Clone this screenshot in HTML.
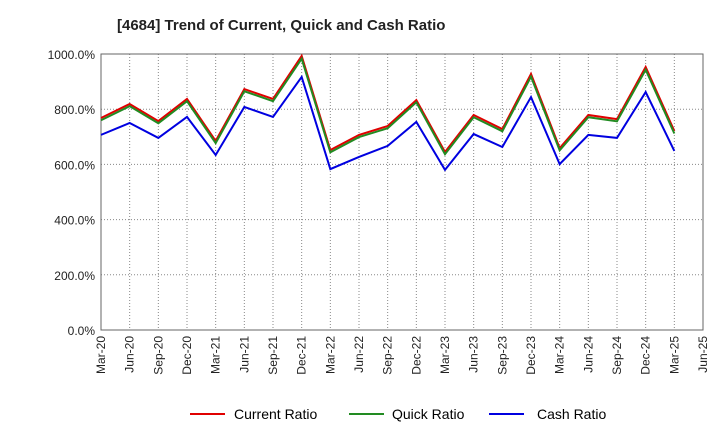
<!DOCTYPE html>
<html><head><meta charset="utf-8"><style>
body{margin:0;background:#fff;font-family:"Liberation Sans",sans-serif;}
</style></head><body>
<svg id="chart" width="720" height="440" xmlns="http://www.w3.org/2000/svg" font-family="Liberation Sans, sans-serif">
<text x="117" y="30" font-size="15" font-weight="bold" fill="#222">[4684]  Trend of Current, Quick and Cash Ratio</text>
<g id="grid"></g><g id="axes"></g><g id="series"></g>
<g>
<line x1="190" y1="414" x2="225" y2="414" stroke="#e00000" stroke-width="2"/>
<text x="234" y="419" font-size="14">Current Ratio</text>
<line x1="349" y1="414" x2="384" y2="414" stroke="#228b22" stroke-width="2"/>
<text x="392" y="419" font-size="14">Quick Ratio</text>
<line x1="489" y1="414" x2="524" y2="414" stroke="#0000e0" stroke-width="2"/>
<text x="537" y="419" font-size="14">Cash Ratio</text>
</g>
</svg>
<script>
const tickLabels=["Mar-20","Jun-20","Sep-20","Dec-20","Mar-21","Jun-21","Sep-21","Dec-21","Mar-22","Jun-22","Sep-22","Dec-22","Mar-23","Jun-23","Sep-23","Dec-23","Mar-24","Jun-24","Sep-24","Dec-24","Mar-25","Jun-25"];
const yTicks=[0,200,400,600,800,1000];
const current=[768,819,757,837,685,873,837,993,652,707,739,833,645,779,728,928,659,779,764,953,721];
const quick=[760,811,749,829,677,865,829,983,644,699,731,825,637,771,720,918,651,771,756,943,712];
const cash=[707,750,696,772,634,808,772,917,583,627,667,754,580,710,663,844,601,707,696,862,649];
const X0=101,X1=703,Y0=330,Y1=54;
const xs=i=>X0+i*(X1-X0)/(tickLabels.length-1);
const ys=v=>Y0-v*(Y0-Y1)/1000;
const NS="http://www.w3.org/2000/svg";
function mk(p,t,a){const e=document.createElementNS(NS,t);for(const k in a)e.setAttribute(k,a[k]);p.appendChild(e);return e;}
const grid=document.getElementById('grid'),axes=document.getElementById('axes'),ser=document.getElementById('series');
tickLabels.forEach((t,i)=>{
 const g=mk(grid,'line',{x1:xs(i),x2:xs(i),y1:Y1,y2:Y0,stroke:'#888','stroke-dasharray':'1,2','stroke-width':1});
 
 
 const tx=mk(axes,'text',{x:0,y:0,'font-size':12,fill:'#222','text-anchor':'end',transform:`translate(${xs(i)+4},${Y0+6}) rotate(-90)`});
 tx.textContent=t;
 
 
});
yTicks.forEach(v=>{
 const g=mk(grid,'line',{x1:X0,x2:X1,y1:ys(v),y2:ys(v),stroke:'#888','stroke-dasharray':'1,2','stroke-width':1});
 
 
 const tx=mk(axes,'text',{x:X0-6,y:ys(v)+5,'font-size':12,fill:'#222','text-anchor':'end'});
 tx.textContent=v.toFixed(1)+'%';
 
 
});
const fr=mk(axes,'rect',{x:X0,y:Y1,width:X1-X0,height:Y0-Y1,fill:'none',stroke:'#666','stroke-width':1});


[[current,'#e00000','current-ratio-line'],[quick,'#228b22','quick-ratio-line'],[cash,'#0000e0','cash-ratio-line']].forEach(([d,c,n])=>{
 const p=mk(ser,'polyline',{points:d.map((v,i)=>xs(i)+','+ys(v)).join(' '),fill:'none',stroke:c,'stroke-width':2});
 
 
});
</script>
</body></html>
